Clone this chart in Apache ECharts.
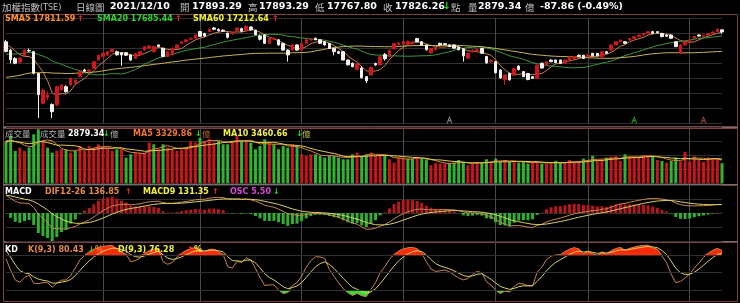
<!DOCTYPE html>
<html><head><meta charset="utf-8">
<script src="https://cdn.jsdelivr.net/npm/echarts/dist/echarts.min.js"></script>
<style>html,body{margin:0;padding:0;background:#000;}#c{width:740px;height:303px;}</style>
</head><body><div id="c"></div><script>
// trading days per month (2021)
const mayDays=[3,4,5,6,7,10,11,12,13,14,17,18,19,20,21,24,25,26,27,28,31];
const junDays=[1,2,3,4,7,8,9,10,11,15,16,17,18,21,22,23,24,25,28,29,30];
const julDays=[1,2,5,6,7,8,9,12,13,14,15,16,19,20,21,22,23,26,27,28,29,30];
const augDays=[2,3,4,5,6,9,10,11,12,13,16,17,18,19,20,23,24,25,26,27,30,31];
const sepDays=[1,2,3,6,7,8,9,10,13,14,15,16,17,22,23,24,27,28,29,30];
const octDays=[1,4,5,6,7,8,12,13,14,15,18,19,20,21,22,25,26,27,28,29];
const novDays=[1,2,3,4,5,8,9,10,11,12,15,16,17,18,19,22,23,24,25,26,29,30];
const decDays=[1,2,3,6,7,8,9,10];
const monthList=[[5,mayDays],[6,junDays],[7,julDays],[8,augDays],[9,sepDays],[10,octDays],[11,novDays],[12,decDays]];

const open=[
17520,17260,17000,16880,17080,17250,17210,16530,15600,15790,
15560,15550,16020,16120,16170,16230,16430,16640,16600,16690,
16950,17060,17110,17210,17210,17180,17180,17110,17000,17110,
17260,17320,17210,17420,17320,17060,17110,17320,17470,17520,
17600,17630,17840,17780,17840,17950,17900,17880,17790,17760,
17860,17930,17880,17980,17880,17700,17730,17470,17600,17580,
17470,17260,17260,17420,17260,17470,17580,17630,17580,17520,
17470,17310,17210,17210,16950,16850,16660,16700,16430,16480,
16840,16800,17120,17060,17300,17430,17440,17440,17450,17620,
17520,17420,17170,17270,17470,17460,17420,17420,17360,17300,
17010,17200,17230,17310,17060,16900,16900,16640,16330,16530,
16480,16760,16590,16530,16430,16380,16850,16790,16950,16950,
16950,16850,16950,17000,17100,17100,17050,17160,17160,17050,
17210,17260,17420,17520,17520,17575,17625,17680,17730,17780,
17835,17835,17780,17730,17730,17520,17160,17420,17520,17625,
17730,17690,17730,17780,17840,17893.29];
const high=[
17580,17290,17040,17040,17300,17310,17240,16560,16060,15960,
15600,16150,16200,16160,16400,16350,16600,16680,16660,16920,
17120,17180,17230,17300,17240,17200,17200,17130,17170,17230,
17380,17400,17380,17440,17330,17220,17330,17430,17540,17590,
17650,17750,17860,17800,17930,17980,17940,17910,17800,17830,
17960,17960,18040,18000,17890,17740,17760,17650,17660,17600,
17480,17280,17440,17440,17490,17590,17620,17650,17590,17540,
17480,17330,17240,17220,16960,16870,16860,16760,16450,16760,
16870,17070,17170,17280,17480,17500,17560,17560,17540,17640,
17540,17430,17330,17380,17490,17480,17440,17430,17380,17320,
17170,17280,17320,17330,17080,16980,16920,16660,16500,16560,
16700,16790,16600,16550,16450,16810,16870,16910,16970,16960,
16960,16960,17070,17070,17120,17110,17120,17170,17170,17220,
17230,17430,17530,17590,17540,17640,17690,17740,17790,17850,
17860,17850,17800,17750,17750,17540,17440,17540,17590,17700,
17750,17740,17790,17840,17930,17893.29];
const low=[
17190,16850,16820,16860,17060,17200,16500,15140,15560,15700,
15140,15500,15980,15930,16150,16200,16420,16590,16560,16680,
16940,17040,17090,17200,17090,16770,17080,16930,16990,17100,
17250,17300,17190,17360,17040,17040,17100,17310,17460,17510,
17590,17620,17670,17670,17830,17880,17840,17830,17620,17740,
17850,17820,17870,17860,17720,17560,17460,17450,17580,17400,
17250,16900,17240,17240,17250,17460,17540,17570,17460,17400,
17300,17100,17140,16940,16780,16730,16620,16370,16230,16470,
16760,16790,16930,17050,17290,17410,17430,17420,17440,17500,
17400,17250,17150,17250,17400,17410,17350,17300,17250,16900,
16990,17190,17220,17150,16840,16870,16530,16370,16170,16310,
16470,16630,16420,16320,16360,16370,16680,16780,16880,16860,
16830,16840,16940,16990,17040,16990,17040,17070,17070,17040,
17150,17250,17410,17510,17460,17560,17620,17670,17720,17770,
17770,17780,17660,17680,17610,17350,17140,17400,17510,17610,
17680,17680,17720,17770,17830,17767.80];
const close=[
17220,16960,16850,17010,17260,17230,16540,15870,16010,15860,
15340,16120,16170,15960,16380,16330,16590,16600,16640,16900,
17100,17160,17210,17285,17110,17110,17100,16950,17160,17210,
17370,17390,17370,17370,17060,17210,17320,17420,17520,17580,
17630,17730,17690,17700,17910,17910,17860,17850,17660,17810,
17950,17850,18000,17890,17740,17600,17470,17630,17620,17420,
17260,17110,17420,17260,17470,17580,17600,17580,17470,17420,
17310,17210,17160,16950,16800,16740,16826,16400,16300,16720,
16800,17050,16990,17250,17460,17480,17530,17520,17515,17520,
17420,17270,17310,17360,17420,17430,17370,17320,17270,17080,
17160,17260,17270,17160,16860,16940,16550,16390,16480,16330,
16690,16650,16430,16340,16380,16790,16700,16900,16900,16870,
16850,16950,17050,17060,17060,17000,17110,17080,17080,17210,
17160,17420,17520,17575,17470,17625,17680,17730,17780,17835,
17785,17800,17680,17690,17630,17370,17420,17520,17575,17690,
17697,17720,17773,17825,17914.12,17826.26];
const volume=[
6050,6764,4621,5097,4621,5097,7002,7717,6050,5097,
4383,4621,4859,4859,4383,4621,5336,4621,5336,5097,
5574,5336,5097,4621,4859,4859,3669,4145,4383,4383,
4383,5812,5574,4859,5574,5097,4859,4621,4859,5097,
6050,5812,6526,6050,6288,5812,6050,5574,5574,6050,
6764,6050,6050,5812,4859,5336,6288,5812,5574,4859,
5336,5097,5574,5336,4145,3907,4145,4145,3907,3669,
3907,3907,3669,3431,3431,4145,4383,3907,4145,4383,
3907,4145,3907,3431,2955,3669,3669,3526,3526,3812,
3526,3431,2574,2859,2812,2812,2859,2955,3335,3049,
2574,2812,3049,2955,3431,2955,3526,3049,3335,3049,
3049,2955,3049,2812,3049,3049,2812,2812,2812,3193,
2955,2955,3335,2955,3193,3526,3335,3907,3193,3335,
3669,3812,3907,3193,4145,3812,3812,3812,4002,4002,
3907,3335,3193,2955,3193,3669,3100,4500,3100,3850,
3408,3050,3700,3550,3470,2879.34];
// closes / volumes before the first visible day (indicator warm-up)
const priorClose=[15800,15760,15414,15138,15410,15760,15946,15707,15802,16194,16341,16362,16452,16206,15982,16179,15953,
16085,16377,16038,15855,15822,15868,15953,16147,16257,16137,16227,16110,16306,16070,16263,16256,16032,15986,16177,16300,16327,16431,
16571,16823,16853,16777,16854,16845,16900,16843,16996,17076,17158,17263,17096,17202,17301,17446,17374,17458,17566,17567];
const priorVol=[5200,5600,5900,6100,5800,6300,5700,6000,6400];
const markerIdx=[96,136,151];
const markerColor=['#a8a8a8','#3cb83c','#b8604a'];

const cats=[]; const monthStart=new Set();
monthList.forEach(([m,days])=>{monthStart.add(cats.length); days.forEach(d=>cats.push('2021/'+String(m).padStart(2,'0')+'/'+String(d).padStart(2,'0')));});
monthStart.delete(0);

// indicators
function maOf(arr,n,start){const out=[];for(let i=start;i<arr.length;i++){let s=0,c=0;for(let k=Math.max(0,i-n+1);k<=i;k++){s+=arr[k];c++;}out.push(+(s/c).toFixed(2));}return out;}
const P=priorClose.length;
const allC=priorClose.concat(close), allH=priorClose.concat(high), allL=priorClose.concat(low);
const ma5=maOf(allC,5,P), ma20=maOf(allC,20,P), ma60=maOf(allC,60,P);
const allV=priorVol.concat(volume);
const vma5=maOf(allV,5,priorVol.length), vma10=maOf(allV,10,priorVol.length);
let e12=allC[0],e26=allC[0],dea=0; const dif=[],sig=[],osc=[];
allC.forEach((c,i)=>{e12+=(c-e12)*2/13;e26+=(c-e26)*2/27;const d=e12-e26;dea+=(d-dea)*2/10;if(i>=P){dif.push(+d.toFixed(2));sig.push(+dea.toFixed(2));osc.push(+(d-dea).toFixed(2));}});
let K=50,D=50; const kArr=[],dArr=[];
allC.forEach((c,i)=>{let hh=-Infinity,ll=Infinity;for(let k=Math.max(0,i-8);k<=i;k++){hh=Math.max(hh,allH[k]);ll=Math.min(ll,allL[k]);}const rsv=hh>ll?(c-ll)/(hh-ll)*100:50;K=K*2/3+rsv/3;D=D*2/3+K/3;if(i>=P){kArr.push(+K.toFixed(2));dArr.push(+D.toFixed(2));}});
const kdHiBase=kArr.map(()=>80), kdHi=kArr.map(k=>Math.max(k-80,0));
const kdLoBase=kArr.map(k=>Math.min(k,20)), kdLo=kArr.map(k=>20-Math.min(k,20));
const upDay=close.map((c,i)=>c>=allC[P+i-1]);

const ohlc=close.map((c,i)=>[open[i],c,low[i],high[i]]);
const priceMin=14976, priceInt=468;

const UP='#c8161c', DN='#2fb52f';
const gridLine='#303030', vLine='#4a4a4a';
function xAx(gi){return {type:'category',gridIndex:gi,data:cats,boundaryGap:false,axisLine:{show:false},axisTick:{show:false},axisLabel:{show:false},
 splitLine:{show:true,interval:(idx)=>monthStart.has(idx),lineStyle:{color:vLine,width:1}}};}
function yAx(gi,min,max,interval,showSplit){return {type:'value',gridIndex:gi,min,max,interval,scale:false,axisLine:{show:false},axisTick:{show:false},axisLabel:{show:false},
 splitLine:{show:showSplit,lineStyle:{color:gridLine,width:1}}};}
const line=(name,xi,yi,data,color,extra)=>Object.assign({name,type:'line',xAxisIndex:xi,yAxisIndex:yi,data,symbol:'none',lineStyle:{color,width:1},itemStyle:{color},z:3,silent:true},extra||{});

const texts=[];
function T(x,y,text,fill,font){texts.push({type:'text',x,y,z:100,style:{text,fill,font,verticalAlign:'middle',textVerticalAlign:'middle'}});}
const B='bold 9.5px "DejaVu Sans"', B8='bold 8px "DejaVu Sans"', CJ='9.5px "Noto Sans CJK TC"', CJ8='8.5px "Noto Sans CJK TC"';
const GR='#c0c0c0', WH='#ffffff', RED='#ff2a2a', GRN='#22e022';
// title row
T(2,7,'加權指數',GR,'9.5px "Noto Sans CJK TC"'); T(40,7.5,'(TSE)',GR,'8px "DejaVu Sans"');
T(76,7,'日線圖',GR,CJ); T(110,7,'2021/12/10',WH,B);
T(180,7,'開',GR,CJ); T(192,7,'17893.29',WH,B);
T(248,7,'高',GR,CJ); T(259,7,'17893.29',WH,B);
T(315,7,'低',GR,CJ); T(327,7,'17767.80',WH,B);
T(383,7,'收',GR,CJ); T(395,7,'17826.26',WH,B); T(443,7,'↓',GRN,B); T(451,7,'點',GR,CJ);
T(468,7,'量',GR,CJ); T(478,7,'2879.34',WH,B); T(525,7,'億',GR,CJ); T(540,7,'-87.86 (-0.49%)',WH,B);
// price legend
T(5,19,'SMA5 17811.59','#ff9030',B8); T(77,19,'↑',RED,B8);
T(97,19,'SMA20 17685.44','#30d030',B8); T(175,19,'↑',RED,B8);
T(193,19,'SMA60 17212.64','#f0f030',B8); T(272,19,'↑',RED,B8);
// volume legend
T(5,134,'成交量','#b0b0b0',CJ8); T(40,134,'成交量','#b0b0b0',CJ8); T(68,134,'2879.34',WH,B8); T(103,134,'↓',GRN,B8); T(110,134,'億','#b0b0b0',CJ8);
T(133,134,'MA5 3329.86','#f07830',B8); T(195,134,'↓',GRN,B8); T(202,134,'億','#c06030',CJ8);
T(223,134,'MA10 3460.66','#f0f040',B8); T(296,134,'↓',GRN,B8); T(302,134,'億','#c0c040',CJ8);
// MACD legend
T(5,192,'MACD',WH,B8); T(45,192,'DIF12-26 136.85','#e88a48',B8); T(125,192,'↑',RED,B8);
T(143,192,'MACD9 131.35','#f0f040',B8); T(212,192,'↑',RED,B8);
T(230,192,'OSC 5.50','#d848d8',B8); T(273,192,'↓',GRN,B8);
// KD legend
T(5,250,'KD',WH,B8); T(28,250,'K(9,3) 80.43','#e88a48',B8); T(88,250,'↓',GRN,B8); T(95,250,'%','#e88a48',B8);
T(118,250,'D(9,3) 76.28','#f0f040',B8); T(187,250,'↑',RED,B8); T(194,250,'%','#f0f040',B8);

const frames=[[14.5,112],[128.5,56],[185.5,56],[242.5,59]].map(([y,h])=>({type:'rect',z:0,shape:{x:3.5,y,width:734,height:h},style:{fill:'none',stroke:'#7e4040',lineWidth:1}}));
const seps=[127.5,184.5,241.5].map(y=>({type:'line',z:0,shape:{x1:3,y1:y,x2:738,y2:y},style:{stroke:'#707070',lineWidth:1}}));

const oscAxis=yAx(2,-220,220,110,false);
const chart=echarts.init(document.getElementById('c'),null,{renderer:'canvas'});
chart.setOption({
 backgroundColor:'#000',animation:false,
 grid:[{left:6,right:18,top:18.3,height:105},{left:6,right:18,top:127.3,height:56},{left:6,right:18,top:185,height:56},{left:6,right:18,top:243.3,height:58.4}],
 xAxis:[xAx(0),xAx(1),xAx(2),xAx(3)],
 yAxis:[yAx(0,priceMin,priceMin+7*priceInt,priceInt,true),yAx(1,0,8000,2000,true),yAx(2,-440,440,220,true),yAx(3,0,100,50,false),oscAxis],
 graphic:{elements:frames.concat(seps,texts)},
 series:[
  {type:'candlestick',xAxisIndex:0,yAxisIndex:0,data:ohlc,barWidth:3,clip:false,silent:true,z:4,
   itemStyle:{color:'#d0181c',color0:'#f2f2f2',borderColor:'#d0181c',borderColor0:'#f2f2f2',borderWidth:1}},
  line('MA5',0,0,ma5,'#c8824a'),
  line('MA20',0,0,ma20,'#3e963e'),
  line('MA60',0,0,ma60,'#c8b45a'),
  {type:'scatter',xAxisIndex:0,yAxisIndex:0,silent:true,z:5,symbol:'path://M0,10L5,0L10,10M2.5,6L7.5,6',symbolSize:[5,6],symbolOffset:[0,-3],
   data:markerIdx.map((ix,j)=>({value:[ix,priceMin],itemStyle:{color:'none',borderColor:markerColor[j],borderWidth:1}}))},
  {type:'bar',xAxisIndex:1,yAxisIndex:1,data:volume.map((v,i)=>({value:v,itemStyle:{color:upDay[i]?UP:DN}})),barWidth:3,silent:true,z:2},
  line('VMA5',1,1,vma5,'#d88040'),
  line('VMA10',1,1,vma10,'#e0d050'),
  {type:'bar',xAxisIndex:2,yAxisIndex:4,data:osc.map(v=>({value:v,itemStyle:{color:v>=0?'#b8181c':'#30b030'}})),barWidth:3,silent:true,z:2},
  line('DIF',2,2,dif,'#c88450'),
  line('MACD9',2,2,sig,'#d8d068'),
  {type:'line',xAxisIndex:3,yAxisIndex:3,data:kdHiBase,stack:'hi',symbol:'none',lineStyle:{opacity:0},silent:true,z:1},
  {type:'line',xAxisIndex:3,yAxisIndex:3,data:kdHi,stack:'hi',symbol:'none',lineStyle:{opacity:0},areaStyle:{color:'#ff2a00',opacity:1},silent:true,z:1},
  {type:'line',xAxisIndex:3,yAxisIndex:3,data:kdLoBase,stack:'lo',symbol:'none',lineStyle:{opacity:0},silent:true,z:1},
  {type:'line',xAxisIndex:3,yAxisIndex:3,data:kdLo,stack:'lo',symbol:'none',lineStyle:{opacity:0},areaStyle:{color:'#33dd33',opacity:1},silent:true,z:1},
  line('K',3,3,kArr,'#c88450',{markLine:{silent:true,symbol:'none',label:{show:false},lineStyle:{color:gridLine,type:'solid',width:1},data:[{yAxis:20},{yAxis:50},{yAxis:80}]}}),
  line('D',3,3,dArr,'#d8d068')
 ]
});
</script></body></html>
